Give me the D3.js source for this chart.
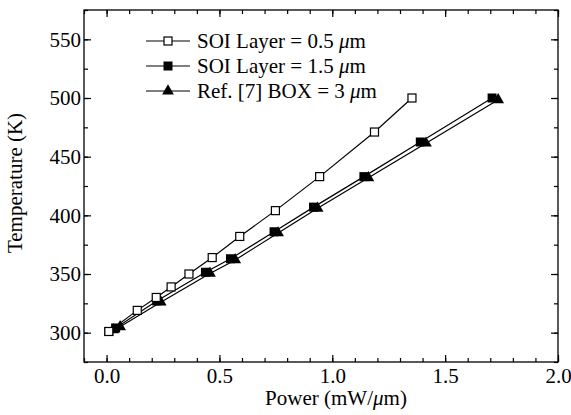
<html>
<head>
<meta charset="UTF-8"/>
<script src="https://d3js.org/d3.v7.min.js"></script>
<style>
body{margin:0;background:#fff;}
.axis path{display:none;}
.axis line{stroke:#000;stroke-width:1.2;}
</style>
</head>
<body>
<svg id="chart" width="571" height="415"></svg>
<script>
// data
var thinP = [0.01, 0.136, 0.22, 0.286, 0.365, 0.468, 0.59, 0.748, 0.944, 1.187, 1.353];
var thinT = [301, 319, 330, 339, 350, 364, 382, 404, 433, 471, 500];
var thickP = [0.01, 0.04, 0.222, 0.438, 0.549, 0.742, 0.917, 1.14, 1.39, 1.708];
var thickT = [301, 304, 327, 351.5, 363, 386, 407, 433, 462.5, 500];
var refP = [0.03, 0.06, 0.24, 0.458, 0.57, 0.76, 0.935, 1.16, 1.415, 1.735];
var refT = [302.5, 305, 326, 350.5, 362, 385, 406, 432, 461.5, 498.5];
var xTicks = [0, 0.5, 1.0, 1.5, 2.0];
var yTicks = [300, 350, 400, 450, 500, 550];
var legendLabels = ['SOI Layer = 0.5 ', 'SOI Layer = 1.5 ', 'Ref. [7] BOX = 3 '];

var FONT = 'Liberation Serif';

var svg = d3.select('#chart');
var L = 84, R = 558, T = 10, B = 362;

var sx = d3.scaleLinear().domain([-0.1, 2.0]).range([L, R]);
var sy = d3.scaleLinear().domain([275, 575]).range([B, T]);

var xMinor = d3.range(-1, 21).map(function(i){ return i / 10; });
var yMinor = d3.range(275, 576, 25);

// minor ticks, all four sides
svg.append('g').attr('class','axis').attr('transform','translate(0,'+B+')')
  .call(d3.axisBottom(sx).tickValues(xMinor).tickSize(-4).tickFormat(''));
svg.append('g').attr('class','axis').attr('transform','translate(0,'+T+')')
  .call(d3.axisTop(sx).tickValues(xMinor).tickSize(-4).tickFormat(''));
svg.append('g').attr('class','axis').attr('transform','translate('+L+',0)')
  .call(d3.axisLeft(sy).tickValues(yMinor).tickSize(-4).tickFormat(''));
svg.append('g').attr('class','axis').attr('transform','translate('+R+',0)')
  .call(d3.axisRight(sy).tickValues(yMinor).tickSize(-4).tickFormat(''));

// major ticks with labels
var gx = svg.append('g').attr('class','axis').attr('transform','translate(0,'+B+')')
  .call(d3.axisBottom(sx).tickValues(xTicks).tickSize(-7).tickPadding(6).tickFormat(d3.format('.1f')));
svg.append('g').attr('class','axis').attr('transform','translate(0,'+T+')')
  .call(d3.axisTop(sx).tickValues(xTicks).tickSize(-7).tickFormat(''));
var gy = svg.append('g').attr('class','axis').attr('transform','translate('+L+',0)')
  .call(d3.axisLeft(sy).tickValues(yTicks).tickSize(-7).tickPadding(3).tickFormat(d3.format('d')));
svg.append('g').attr('class','axis').attr('transform','translate('+R+',0)')
  .call(d3.axisRight(sy).tickValues(yTicks).tickSize(-7).tickFormat(''));

[gx, gy].forEach(function(g){
  g.selectAll('text').attr('fill', '#000')
    .style('font-family', FONT).style('font-size', '21px');
});

svg.append('rect').attr('x', L).attr('y', T).attr('width', R - L).attr('height', B - T)
  .attr('fill','none').attr('stroke','#000').attr('stroke-width',1.3);

var line = d3.line().x(function(d){ return sx(d[0]); }).y(function(d){ return sy(d[1]); });
function pairs(p, t){ return p.map(function(v, i){ return [v, t[i]]; }); }

var thin = pairs(thinP, thinT), thick = pairs(thickP, thickT), ref = pairs(refP, refT);

[thin, thick, ref].forEach(function(s){
  svg.append('path').datum(s).attr('d', line)
    .attr('fill','none').attr('stroke','#000').attr('stroke-width',1.2);
});

var tri = d3.symbol().type(d3.symbolTriangle).size(60);

svg.append('g').selectAll('path').data(ref).enter().append('path')
  .attr('d', tri)
  .attr('transform', function(d){ return 'translate('+sx(d[0])+','+sy(d[1])+')'; })
  .attr('fill','#000');

svg.append('g').selectAll('rect').data(thick).enter().append('rect')
  .attr('x', function(d){ return sx(d[0]) - 4.5; })
  .attr('y', function(d){ return sy(d[1]) - 4.5; })
  .attr('width', 9).attr('height', 9).attr('fill','#000');

svg.append('g').selectAll('rect').data(thin).enter().append('rect')
  .attr('x', function(d){ return sx(d[0]) - 4; })
  .attr('y', function(d){ return sy(d[1]) - 4; })
  .attr('width', 8).attr('height', 8)
  .attr('fill','#fff').attr('stroke','#000').attr('stroke-width',1.2);

// legend
var lg = svg.append('g');
legendLabels.forEach(function(lab, i){
  var y = 41 + i * 25;
  lg.append('line').attr('x1', 146).attr('x2', 190).attr('y1', y).attr('y2', y)
    .attr('stroke','#000').attr('stroke-width',1.2);
  if (i === 0) {
    lg.append('rect').attr('x', 164).attr('y', y - 4).attr('width', 8).attr('height', 8)
      .attr('fill','#fff').attr('stroke','#000').attr('stroke-width',1.2);
  } else if (i === 1) {
    lg.append('rect').attr('x', 163.5).attr('y', y - 4.5).attr('width', 9).attr('height', 9).attr('fill','#000');
  } else {
    lg.append('path').attr('d', tri).attr('transform','translate(168,'+y+')').attr('fill','#000');
  }
  var t = lg.append('text').attr('x', 197).attr('y', y + 7)
    .style('font-family', FONT).style('font-size', '21px').text(lab);
  t.append('tspan').attr('font-style','italic').text('\u03bc');
  t.append('tspan').text('m');
});

// axis titles
var xt = svg.append('text').attr('x', 336).attr('y', 405)
  .style('font-family', FONT).style('font-size', '21px')
  .attr('text-anchor','middle').text('Power (mW/');
xt.append('tspan').attr('font-style','italic').text('\u03bc');
xt.append('tspan').text('m)');

svg.append('text').attr('transform','translate(22,183) rotate(-90)')
  .style('font-family', FONT).style('font-size', '21px')
  .attr('text-anchor','middle').text('Temperature (K)');
</script>
</body>
</html>
